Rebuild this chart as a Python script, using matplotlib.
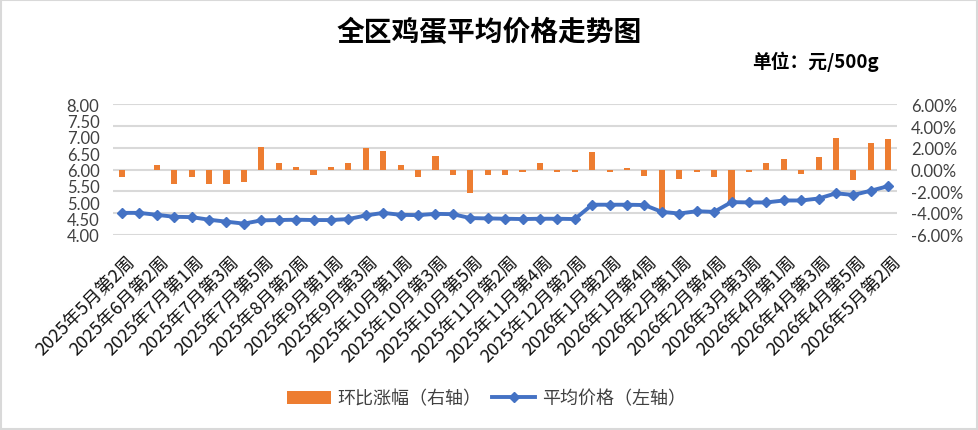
import matplotlib
matplotlib.use('Agg')
import matplotlib.pyplot as plt
import matplotlib.transforms as mtransforms
from matplotlib.patches import Rectangle, Patch
from matplotlib.lines import Line2D
from matplotlib.ticker import FuncFormatter

plt.rcParams['font.family'] = ['Noto Sans CJK SC', 'DejaVu Sans']

weeks = ['2025年5月第2周', '2025年5月第4周', '2025年6月第2周', '2025年6月第4周',
         '2025年7月第1周', '2025年7月第2周', '2025年7月第3周', '2025年7月第4周',
         '2025年7月第5周', '2025年8月第1周', '2025年8月第2周', '2025年8月第4周',
         '2025年9月第1周', '2025年9月第2周', '2025年9月第3周', '2025年9月第4周',
         '2025年10月第1周', '2025年10月第2周', '2025年10月第3周', '2025年10月第4周',
         '2025年10月第5周', '2025年11月第1周', '2025年11月第2周', '2025年11月第3周',
         '2025年11月第4周', '2025年12月第1周', '2025年12月第2周', '2025年12月第4周',
         '2026年1月第2周', '2026年1月第3周', '2026年1月第4周', '2026年1月第5周',
         '2026年2月第1周', '2026年2月第3周', '2026年2月第4周', '2026年3月第2周',
         '2026年3月第3周', '2026年3月第4周', '2026年4月第1周', '2026年4月第2周',
         '2026年4月第3周', '2026年4月第4周', '2026年4月第5周', '2026年5月第1周',
         '2026年5月第2周']

# 平均价格 (元/500g), left axis
price = [4.67, 4.67, 4.61, 4.55, 4.54, 4.46, 4.40, 4.34, 4.44, 4.45,
         4.46, 4.45, 4.45, 4.48, 4.59, 4.67, 4.61, 4.60, 4.64, 4.63,
         4.51, 4.50, 4.49, 4.48, 4.49, 4.49, 4.48, 4.92, 4.92, 4.92,
         4.91, 4.70, 4.65, 4.72, 4.70, 5.00, 4.99, 4.99, 5.05, 5.05,
         5.11, 5.27, 5.22, 5.35, 5.49]

# 环比涨幅 (%), right axis
change = [-0.66, 0.0, 0.41, -1.33, -0.66, -1.33, -1.33, -1.15, 2.07, 0.60,
          0.23, -0.48, 0.23, 0.60, 1.98, 1.70, 0.41, -0.66, 1.24, -0.48,
          -2.13, -0.48, -0.48, -0.20, 0.60, -0.20, -0.20, 1.60, -0.20, 0.14,
          -0.57, -3.70, -0.84, -0.20, -0.66, -2.90, -0.20, 0.60, 0.97, -0.38,
          1.15, 2.90, -0.94, 2.44, 2.80]

x = list(range(len(weeks)))

fig = plt.figure(figsize=(9.79, 4.31), dpi=100)
fig.patches.append(Rectangle((0.001, 0.002), 0.997, 0.995, transform=fig.transFigure,
                             fill=False, edgecolor='#d9d9d9', lw=1.5))

ax = fig.add_axes([0.1157, 0.4531, 0.8005, 0.3026])
ax2 = ax.twinx()

ax2.bar(x, change, width=0.35, color='#ED7D31', zorder=2)
ax.plot(x, price, color='#4472C4', lw=2.8, marker='D', markersize=5.5, zorder=3)

ax.set_zorder(ax2.get_zorder() + 1)
ax.patch.set_visible(False)

ax.set_ylim(4, 8)
ax.set_yticks([4 + 0.5 * i for i in range(9)])
ax.yaxis.set_major_formatter(FuncFormatter(lambda v, p: '%.2f' % v))
ax2.set_ylim(-6, 6)
ax2.set_yticks([-6, -4, -2, 0, 2, 4, 6])
ax2.yaxis.set_major_formatter(FuncFormatter(lambda v, p: '%.2f%%' % v))
ax.set_xlim(-0.5, len(weeks) - 0.5)

ax2.yaxis.grid(True, color='#d9d9d9', lw=1.5)
ax2.set_axisbelow(True)
for a in (ax, ax2):
    for s in a.spines.values():
        s.set_visible(False)
    a.tick_params(length=0)

ax.tick_params(axis='y', labelsize=12, labelcolor='#404040', pad=10)
ax2.tick_params(axis='y', labelsize=12, labelcolor='#404040', pad=10)
for lab in ax.get_yticklabels() + ax2.get_yticklabels():
    lab.set_family(['Lato', 'DejaVu Sans'])

ticks = x[::2]
ax.set_xticks(ticks)
ax.set_xticklabels([weeks[i] for i in ticks], rotation=45, ha='right', va='center',
                   rotation_mode='anchor', fontsize=13, color='#111111')
ax.tick_params(axis='x', pad=17)
shift = mtransforms.ScaledTranslation(10 / 100, 0, fig.dpi_scale_trans)
for lab in ax.get_xticklabels():
    lab.set_transform(lab.get_transform() + shift)

fig.text(0.5, 0.925, '全区鸡蛋平均价格走势图', ha='center', va='center',
         fontsize=20, fontweight='bold')
fig.text(0.898, 0.857, '单位：元/500g', ha='right', va='center',
         fontsize=13.5, fontweight='bold')

handles = [Patch(facecolor='#ED7D31'),
           Line2D([], [], color='#4472C4', lw=2.8, marker='D', markersize=5.5)]
fig.legend(handles, ['环比涨幅（右轴）', '平均价格（左轴）'], loc='center',
           bbox_to_anchor=(0.497, 0.073), ncol=2, frameon=False, fontsize=13,
           labelcolor='#404040', handlelength=2.4, columnspacing=0.6, handletextpad=0.35)

fig.savefig('out.png', dpi=100)
